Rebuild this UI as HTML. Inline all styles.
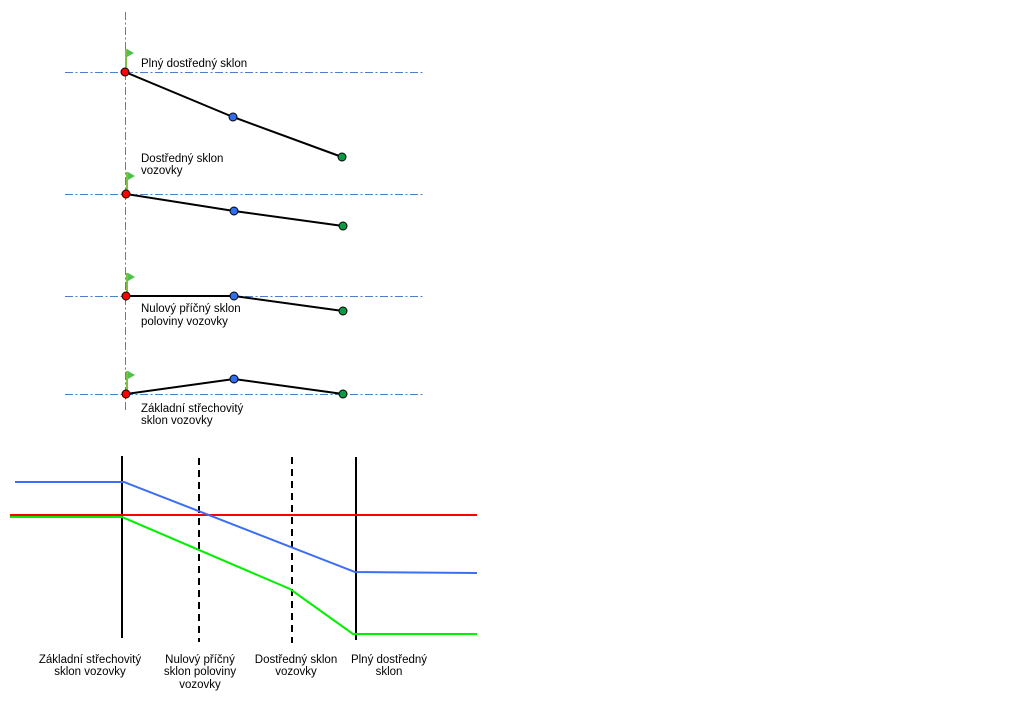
<!DOCTYPE html>
<html><head><meta charset="utf-8"><style>
html,body{margin:0;padding:0;background:#fff;}
svg{display:block;}
text{font-family:"Liberation Sans",sans-serif;font-size:11.5px;fill:#000;}
</style></head><body>
<svg width="1024" height="720" viewBox="0 0 1024 720" xmlns="http://www.w3.org/2000/svg">
<g stroke="#4a7fcb" stroke-width="1" stroke-dasharray="8,2.5,2,2.5" fill="none">
<line x1="125.5" y1="12" x2="125.5" y2="411"/>
<line x1="65" y1="72.5" x2="423" y2="72.5"/>
<line x1="65" y1="194.5" x2="423" y2="194.5"/>
<line x1="65" y1="296.5" x2="423" y2="296.5"/>
<line x1="65" y1="394.5" x2="423" y2="394.5"/>
</g>
<g stroke="#000" stroke-width="2" fill="none">
<polyline points="125,72 233,117 342,157"/>
<polyline points="126,194 234,211 343,226"/>
<polyline points="126,296 234,296 343,311"/>
<polyline points="126,394 234,379 343,394"/>
</g>
<g stroke="#7dc142" stroke-width="2">
<line x1="126" y1="49" x2="126" y2="70"/>
<line x1="127" y1="172" x2="127" y2="192"/>
<line x1="127" y1="273" x2="127" y2="294"/>
<line x1="127" y1="371" x2="127" y2="392"/>
</g>
<g fill="#4cc24a">
<polygon points="127,49 134,53 127,57"/>
<polygon points="128,172 135,176 128,180"/>
<polygon points="128,273 135,277 128,281"/>
<polygon points="128,371 135,375 128,379"/>
</g>
<g stroke="#000" stroke-width="1">
<circle cx="125" cy="72" r="4" fill="#f00"/><circle cx="233" cy="117" r="4" fill="#2f6ef0"/><circle cx="342" cy="157" r="4" fill="#0a9a44"/>
<circle cx="126" cy="194" r="4" fill="#f00"/><circle cx="234" cy="211" r="4" fill="#2f6ef0"/><circle cx="343" cy="226" r="4" fill="#0a9a44"/>
<circle cx="126" cy="296" r="4" fill="#f00"/><circle cx="234" cy="296" r="4" fill="#2f6ef0"/><circle cx="343" cy="311" r="4" fill="#0a9a44"/>
<circle cx="126" cy="394" r="4" fill="#f00"/><circle cx="234" cy="379" r="4" fill="#2f6ef0"/><circle cx="343" cy="394" r="4" fill="#0a9a44"/>
</g>
<text x="141" y="67">Plný dostředný sklon</text>
<text x="141" y="162">Dostředný sklon</text>
<text x="141" y="174">vozovky</text>
<text x="141" y="312">Nulový příčný sklon</text>
<text x="141" y="325">poloviny vozovky</text>
<text x="141" y="412">Základní střechovitý</text>
<text x="141" y="424">sklon vozovky</text>

<g stroke="#000" stroke-width="2">
<line x1="122" y1="456" x2="122" y2="638"/>
<line x1="356" y1="457" x2="356" y2="640"/>
<line x1="199" y1="458" x2="199" y2="642" stroke-dasharray="7,5"/>
<line x1="292" y1="457" x2="292" y2="643" stroke-dasharray="7,5"/>
</g>
<g fill="none" stroke-width="2">
<polyline points="10,515 477,515" stroke="#f00"/>
<polyline points="15,482 124,482 355,572 477,573" stroke="#3b6ef5"/>
<polyline points="10,517 122,517 290,589 353,634 477,634" stroke="#00f000"/>
</g>
<g text-anchor="middle">
<text x="90" y="663">Základní střechovitý</text>
<text x="90" y="675">sklon vozovky</text>
<text x="200" y="663">Nulový příčný</text>
<text x="200" y="675">sklon poloviny</text>
<text x="200" y="688">vozovky</text>
<text x="296" y="663">Dostředný sklon</text>
<text x="296" y="675">vozovky</text>
<text x="389" y="663">Plný dostředný</text>
<text x="389" y="675">sklon</text>
</g>
</svg>
</body></html>
